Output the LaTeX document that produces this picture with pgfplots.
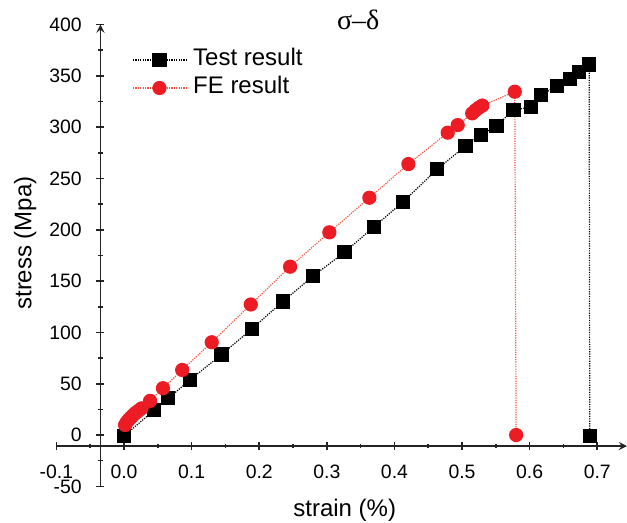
\documentclass[border=0pt]{standalone}
\usepackage{pgfplots}
\pgfplotsset{compat=1.18}
\usepackage{fontspec}
\setmainfont{Liberation Sans}
\newfontfamily\serif{Liberation Serif}
\definecolor{fered}{RGB}{237,28,36}
\definecolor{feline}{RGB}{245,85,65}
\definecolor{axcol}{RGB}{35,35,35}
\begin{document}
\begin{tikzpicture}
\pgfplotsset{
  common/.style={
    x=338pt, y=0.51315pt,
    enlargelimits=false, clip=false,
    axis line style={-, draw=axcol, line width=0.8pt},
    tick style={draw=axcol, line width=0.8pt},
    tick align=outside,
    major tick length=4pt, minor tick length=2.2pt,
    ticklabel style={font=\fontsize{9.7}{11}\selectfont},
    xmax=0.744, ymax=400,
    anchor=north east, at={(0pt,0pt)},
  }
}
\begin{axis}[common, xmin=-0.1, ymin=-10.7,
  axis x line=bottom, axis y line=none,
  xtick={-0.1,0,0.1,0.2,0.3,0.4,0.5,0.6,0.7},
  xticklabels={-0.1,0.0,0.1,0.2,0.3,0.4,0.5,0.6,0.7},
  minor xtick={-0.05,0.05,0.15,0.25,0.35,0.45,0.55,0.65},
  ytick=\empty,
  xticklabel style={yshift=-3.8pt},
  xlabel={strain (\%)},
  xlabel style={at={(axis description cs:0.5,0)}, anchor=center, yshift=-32pt, xshift=1.5pt, font=\fontsize{12}{14}\selectfont}]
\end{axis}
\begin{axis}[common, xmin=-0.035, ymin=-50,
  axis x line=none, axis y line=left,
  ytick={-50,0,50,100,150,200,250,300,350,400},
  yticklabels={-50,0,50,100,150,200,250,300,350,400},
  minor ytick={-25,25,75,125,175,225,275,325,375},
  xtick=\empty,
  yticklabel style={xshift=-3.8pt},
  ylabel={stress (Mpa)},
  ylabel style={at={(axis description cs:-0.1429,0.5269)}, anchor=center, font=\fontsize{12}{14}\selectfont},
  title={σ–δ},
  title style={at={(axis description cs:0.4896,1.0054)}, anchor=center, yshift=-5pt, font=\serif\fontsize{14}{16}\selectfont},
  legend image code/.code={\draw[mark repeat=2,mark phase=2,#1] plot coordinates {(0pt,0pt) (13.25pt,0pt) (26.5pt,0pt)};},
  legend style={at={(axis description cs:0.060,0.950)}, anchor=north west, draw=none, fill=none, inner sep=0pt,
    font=\fontsize{12}{14}\selectfont, row sep=2pt,
    nodes={inner xsep=0pt, inner ysep=0pt, text height=9pt, text depth=3pt},
    /tikz/every odd column/.append style={column sep=3.3pt}},
  legend cell align=left]
\addplot[black, line width=0.6pt, dash pattern=on 0.6pt off 0.6pt, mark=square*, mark size=3.25pt, mark options={solid, fill=black}]
coordinates {
(0,-1) (0.0447,24.4) (0.0655,35.8) (0.0976,53.7) (0.1442,78.4) (0.1888,103.3)
(0.2349,130.1) (0.280,155) (0.326,178) (0.370,203) (0.4125,227) (0.4635,259.2)
(0.505,281.6) (0.5277,292.6) (0.551,301.1) (0.576,316.7) (0.602,319.5) (0.617,331)
(0.640,340.3) (0.660,346.9) (0.673,354) (0.688,361) (0.689,-1)
};
\addlegendentry{Test result}
\addplot[feline, line width=0.6pt, dash pattern=on 0.6pt off 0.6pt, mark=*, mark size=3.25pt, mark options={solid, fill=fered, draw=fered}]
coordinates {
(0.0015,9.8) (0.004,12.5) (0.007,15) (0.010,17) (0.013,19) (0.017,21.5) (0.021,23.5)
(0.026,26) (0.0385,33.3) (0.0575,45.6) (0.086,63.4) (0.1297,90.4) (0.1875,127.2)
(0.2456,164) (0.3037,197.5) (0.3629,231.2) (0.4206,264) (0.4788,294.6) (0.4936,302)
(0.515,313.4) (0.520,316.5) (0.525,319) (0.530,321) (0.578,334.5) (0.580,0)
};
\addlegendentry{FE result}
\end{axis}
\pgfresetboundingbox
\path[use as bounding box] (-313.5pt,-249.25pt) rectangle (0pt,12.25pt);
\end{tikzpicture}
\end{document}
